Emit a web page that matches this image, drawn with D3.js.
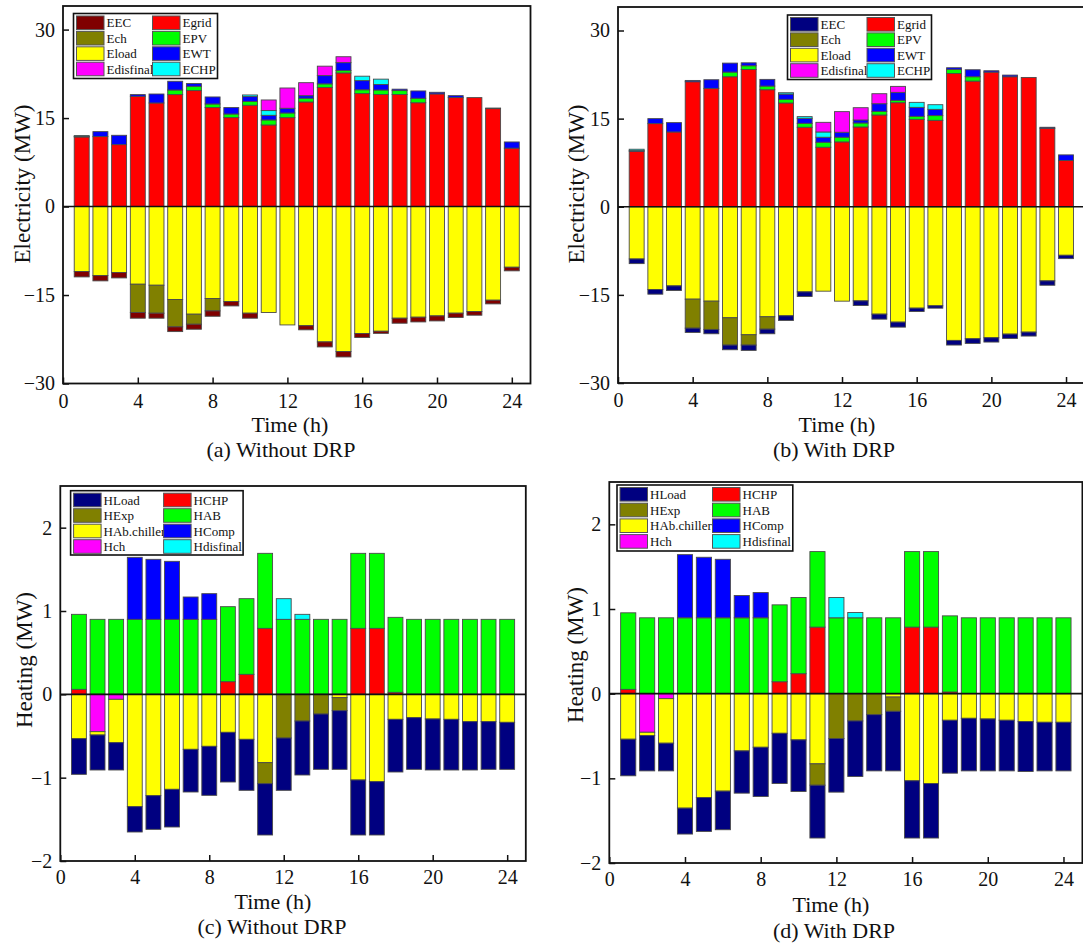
<!DOCTYPE html>
<html>
<head>
<meta charset="utf-8">
<script src="https://cdn.jsdelivr.net/npm/d3@7/dist/d3.min.js"></script>
<style>
  html, body { margin: 0; padding: 0; background: #fff; }
  svg { display: block; }
  text { font-family: "Liberation Serif", "Times New Roman", serif; fill: #111; }
</style>
</head>
<body>
<svg id="fig" width="1083" height="945"></svg>
<script>
// Hours of the day
const hours = d3.range(1, 25);
const xTickValues = [0, 4, 8, 12, 16, 20, 24];
const elecTicks = [-30, -15, 0, 15, 30];
const heatTicks = [-2, -1, 0, 1, 2];

// (a) Electricity balance without DRP (MW); demand-side series are drawn below zero
const egridA = [11.8, 11.86, 10.5, 18.7, 17.56, 18.98, 19.66, 16.78, 15.08, 17.17, 13.83, 15.07, 17.73, 20.2, 22.65, 19.15, 19.0, 19.0, 17.6, 19.1, 18.47, 18.47, 16.6, 9.9];
const epvA = [0, 0, 0, 0, 0, 0.78, 0.73, 0.61, 0.61, 0.63, 0.85, 0.79, 0.63, 0.6, 0.4, 0.65, 0.76, 0.66, 0.76, 0, 0, 0, 0, 0];
const ewtA = [0.1, 0.84, 1.58, 0.28, 1.52, 1.48, 0.46, 1.19, 1.09, 0.84, 0.79, 0.8, 0.44, 1.4, 1.35, 1.55, 0.94, 0.24, 1.24, 0.27, 0.33, 0, 0.1, 1.05];
const echpA = [0.13, 0, 0, 0, 0, 0, 0, 0, 0, 0.28, 0.8, 0, 0, 0, 0, 0.75, 0.9, 0, 0, 0, 0, 0, 0, 0];
const edisA = [0, 0, 0, 0, 0, 0, 0, 0, 0, 0, 1.8, 3.44, 2.2, 1.6, 1.0, 0, 0, 0, 0, 0, 0, 0, 0, 0];
const eloadA = [11.02, 11.7, 11.19, 13.17, 13.34, 15.76, 18.25, 15.6, 16.1, 18.08, 17.97, 20.07, 20.2, 22.95, 24.58, 21.53, 21.14, 18.93, 18.76, 18.54, 18.08, 17.8, 15.88, 10.29];
const echA = [0, 0, 0, 4.8, 4.74, 4.64, 1.7, 2.09, 0, 0, 0, 0, 0, 0, 0, 0, 0, 0, 0, 0, 0, 0, 0, 0];
const eecA = [0.91, 0.9, 0.91, 0.96, 0.85, 0.8, 0.85, 0.91, 0.75, 0.85, 0, 0, 0.7, 0.85, 0.92, 0.67, 0.36, 0.85, 0.8, 0.85, 0.72, 0.62, 0.62, 0.61];

// (b) Electricity balance with DRP (MW)
const egridB = [9.45, 14.15, 12.73, 21.28, 20.15, 22.13, 23.37, 19.92, 17.66, 13.53, 10.13, 11.04, 13.58, 15.62, 17.71, 14.88, 14.71, 22.69, 21.39, 22.92, 22.13, 22.01, 13.36, 7.87];
const epvB = [0, 0, 0, 0, 0, 0.79, 0.63, 0.62, 0.62, 0.67, 0.85, 0.79, 0.68, 0.62, 0.4, 0.51, 0.8, 0.68, 0.74, 0, 0, 0, 0, 0];
const ewtB = [0.1, 0.85, 1.59, 0.22, 1.47, 1.53, 0.5, 1.14, 0.9, 0.85, 0.85, 0.85, 0.51, 1.3, 1.36, 1.53, 1.07, 0.29, 1.19, 0.23, 0.28, 0, 0.17, 0.96];
const echpB = [0.24, 0, 0, 0, 0, 0, 0, 0, 0.23, 0.29, 0.9, 0, 0, 0, 0, 0.85, 0.79, 0, 0, 0, 0, 0, 0, 0];
const edisB = [0, 0, 0, 0, 0, 0, 0, 0, 0, 0, 1.64, 3.51, 2.09, 1.7, 1.02, 0, 0, 0, 0, 0, 0, 0, 0, 0];
const eloadB = [8.89, 14.09, 13.47, 15.73, 16.07, 18.9, 21.79, 18.73, 18.56, 14.49, 14.37, 16.07, 16.02, 18.28, 19.64, 17.26, 16.86, 22.75, 22.47, 22.3, 21.68, 21.34, 12.62, 8.26];
const echB = [0, 0, 0, 4.93, 4.81, 4.64, 1.75, 2.1, 0, 0, 0, 0, 0, 0, 0, 0, 0, 0, 0, 0, 0, 0, 0, 0];
const eecB = [0.79, 0.79, 0.79, 0.73, 0.74, 0.8, 0.91, 0.79, 0.79, 0.79, 0, 0, 0.79, 0.85, 0.85, 0.57, 0.4, 0.79, 0.79, 0.73, 0.73, 0.67, 0.74, 0.57];

// (c) Heat balance without DRP (MW)
const hchpC = [0.06, 0, 0, 0, 0, 0, 0, 0, 0.152, 0.24, 0.792, 0, 0, 0, 0, 0.792, 0.792, 0.024, 0, 0, 0, 0, 0, 0];
const habC = [0.9, 0.9, 0.9, 0.9, 0.9, 0.9, 0.9, 0.9, 0.9, 0.908, 0.9, 0.9, 0.9, 0.9, 0.9, 0.9, 0.9, 0.9, 0.9, 0.9, 0.9, 0.9, 0.9, 0.9];
const hcompC = [0, 0, 0, 0.744, 0.72, 0.696, 0.268, 0.308, 0, 0, 0, 0, 0, 0, 0, 0, 0, 0, 0, 0, 0, 0, 0, 0];
const hdisC = [0, 0, 0, 0, 0, 0, 0, 0, 0, 0, 0, 0.248, 0.06, 0, 0, 0, 0, 0, 0, 0, 0, 0, 0, 0];
const hchC = [0, 0.448, 0.06, 0, 0, 0, 0, 0, 0, 0, 0, 0, 0, 0, 0, 0, 0, 0, 0, 0, 0, 0, 0, 0];
const habsC = [0.532, 0.04, 0.52, 1.348, 1.216, 1.14, 0.66, 0.624, 0.456, 0.54, 0.82, 0, 0, 0, 0.04, 1.028, 1.048, 0.3, 0.28, 0.296, 0.3, 0.328, 0.328, 0.336];
const hexpC = [0, 0, 0, 0, 0, 0, 0, 0, 0, 0, 0.252, 0.524, 0.32, 0.236, 0.156, 0, 0, 0, 0, 0, 0, 0, 0, 0];
const hloadC = [0.428, 0.42, 0.328, 0.304, 0.404, 0.452, 0.512, 0.588, 0.596, 0.612, 0.616, 0.628, 0.648, 0.664, 0.704, 0.66, 0.64, 0.632, 0.62, 0.612, 0.608, 0.58, 0.572, 0.564];

// (d) Heat balance with DRP (MW)
const hchpD = [0.051, 0, 0, 0, 0, 0, 0, 0, 0.141, 0.236, 0.786, 0, 0, 0, 0, 0.786, 0.786, 0.02, 0, 0, 0, 0, 0, 0];
const habD = [0.904, 0.896, 0.896, 0.896, 0.896, 0.896, 0.896, 0.896, 0.908, 0.9, 0.892, 0.896, 0.896, 0.896, 0.896, 0.892, 0.892, 0.899, 0.896, 0.896, 0.896, 0.896, 0.896, 0.896];
const hcompD = [0, 0, 0, 0.746, 0.715, 0.691, 0.263, 0.298, 0, 0, 0, 0, 0, 0, 0, 0, 0, 0, 0, 0, 0, 0, 0, 0];
const hdisD = [0, 0, 0, 0, 0, 0, 0, 0, 0, 0, 0, 0.24, 0.063, 0, 0, 0, 0, 0, 0, 0, 0, 0, 0, 0];
const hchD = [0, 0.456, 0.059, 0, 0, 0, 0, 0, 0, 0, 0, 0, 0, 0, 0, 0, 0, 0, 0, 0, 0, 0, 0, 0];
const habsD = [0.538, 0.039, 0.526, 1.352, 1.226, 1.151, 0.676, 0.633, 0.468, 0.546, 0.829, 0, 0, 0, 0.04, 1.029, 1.061, 0.314, 0.291, 0.299, 0.314, 0.33, 0.338, 0.338];
const hexpD = [0, 0, 0, 0, 0, 0, 0, 0, 0, 0, 0.252, 0.53, 0.322, 0.248, 0.168, 0, 0, 0, 0, 0, 0, 0, 0, 0];
const hloadD = [0.432, 0.417, 0.327, 0.306, 0.401, 0.456, 0.499, 0.581, 0.593, 0.609, 0.624, 0.633, 0.656, 0.664, 0.704, 0.676, 0.644, 0.625, 0.621, 0.613, 0.598, 0.589, 0.574, 0.574];

// Series colours
const C = {
  maroon: "#800000", navy: "#000080", red: "#ff0000", olive: "#808000",
  green: "#00ff00", yellow: "#ffff00", blue: "#0000ff", magenta: "#ff00ff", cyan: "#00ffff"
};

// Series definitions: stacking order (positives upward, negatives downward) and legend order
function elecSeries(eecColor, d) {
  return {
    stack: [
      { key: "Egrid", values: d.grid, sign: 1, color: C.red },
      { key: "EPV", values: d.pv, sign: 1, color: C.green },
      { key: "EWT", values: d.wt, sign: 1, color: C.blue },
      { key: "ECHP", values: d.chp, sign: 1, color: C.cyan },
      { key: "Edisfinal", values: d.dis, sign: 1, color: C.magenta },
      { key: "Eload", values: d.load, sign: -1, color: C.yellow },
      { key: "Ech", values: d.ch, sign: -1, color: C.olive },
      { key: "EEC", values: d.ec, sign: -1, color: eecColor }
    ],
    legend: ["EEC", "Egrid", "Ech", "EPV", "Eload", "EWT", "Edisfinal", "ECHP"]
  };
}
function heatSeries(d) {
  return {
    stack: [
      { key: "HCHP", values: d.chp, sign: 1, color: C.red },
      { key: "HAB", values: d.ab, sign: 1, color: C.green },
      { key: "HComp", values: d.comp, sign: 1, color: C.blue },
      { key: "Hdisfinal", values: d.dis, sign: 1, color: C.cyan },
      { key: "Hch", values: d.ch, sign: -1, color: C.magenta },
      { key: "HAb.chiller", values: d.abs, sign: -1, color: C.yellow },
      { key: "HExp", values: d.exp, sign: -1, color: C.olive },
      { key: "HLoad", values: d.load, sign: -1, color: C.navy }
    ],
    legend: ["HLoad", "HCHP", "HExp", "HAB", "HAb.chiller", "HComp", "Hch", "Hdisfinal"]
  };
}

const panels = [
  {
    box: { left: 63, right: 530.5, top: 6, bottom: 383.5 }, yDomain: [-30, 34], yTicks: elecTicks, tickPad: 10,
    yTitle: "Electricity (MW)", yTitleX: 22, yTitleY: 184, xTitleX: 290, xTitleY: 432, caption: "(a) Without DRP", capX: 281, capY: 457,
    legend: { x: 73.5, y: 13.5, w: 144, h: 65, col2: 76, rowH: 15.4, font: 13 },
    series: elecSeries(C.maroon, { grid: egridA, pv: epvA, wt: ewtA, chp: echpA, dis: edisA, load: eloadA, ch: echA, ec: eecA })
  },
  {
    box: { left: 618, right: 1084.7, top: 7, bottom: 383 }, yDomain: [-30, 34], yTicks: elecTicks, tickPad: 10,
    yTitle: "Electricity (MW)", yTitleX: 576, yTitleY: 184, xTitleX: 837, xTitleY: 432, caption: "(b) With DRP", capX: 834, capY: 457,
    legend: { x: 787.5, y: 15, w: 144, h: 64.5, col2: 76.5, rowH: 15.4, font: 13 },
    series: elecSeries(C.navy, { grid: egridB, pv: epvB, wt: ewtB, chp: echpB, dis: edisB, load: eloadB, ch: echB, ec: eecB })
  },
  {
    box: { left: 60.3, right: 525.8, top: 486, bottom: 861 }, yDomain: [-2, 2.5], yTicks: heatTicks, tickPad: 9,
    yTitle: "Heating (MW)", yTitleX: 24, yTitleY: 660, xTitleX: 273, xTitleY: 909, caption: "(c) Without DRP", capX: 272, capY: 934,
    legend: { x: 70.6, y: 490.7, w: 172.5, h: 64.3, col2: 90, rowH: 15.5, font: 13 },
    series: heatSeries({ chp: hchpC, ab: habC, comp: hcompC, dis: hdisC, ch: hchC, abs: habsC, exp: hexpC, load: hloadC })
  },
  {
    box: { left: 609.3, right: 1082.4, top: 482, bottom: 863 }, yDomain: [-2, 2.5], yTicks: heatTicks, tickPad: 9,
    yTitle: "Heating (MW)", yTitleX: 575, yTitleY: 655, xTitleX: 831, xTitleY: 912, caption: "(d) With DRP", capX: 834, capY: 938,
    legend: { x: 617, y: 485, w: 175.8, h: 66, col2: 92.5, rowH: 15.7, font: 13 },
    series: heatSeries({ chp: hchpD, ab: habD, comp: hcompD, dis: hdisD, ch: hchD, abs: habsD, exp: hexpD, load: hloadD })
  }
];

const svg = d3.select("#fig");
svg.append("rect").attr("width", 1083).attr("height", 945).attr("fill", "#fff");

panels.forEach(p => {
  const b = p.box;
  const x = d3.scaleLinear().domain([0, 25]).range([b.left, b.right]);
  const y = d3.scaleLinear().domain(p.yDomain).range([b.bottom, b.top]);
  const barW = x(0.8) - x(0);

  const g = svg.append("g");

  // Table of signed values, one row per hour
  const keys = p.series.stack.map(s => s.key);
  const rows = hours.map((h, i) => {
    const r = { hour: h };
    p.series.stack.forEach(s => { r[s.key] = s.sign * s.values[i]; });
    return r;
  });
  const stacked = d3.stack().keys(keys).offset(d3.stackOffsetDiverging)(rows);
  const colorOf = new Map(p.series.stack.map(s => [s.key, s.color]));

  const clipId = "clip" + Math.round(b.left);
  svg.append("clipPath").attr("id", clipId)
    .append("rect").attr("x", b.left).attr("y", b.top).attr("width", b.right - b.left).attr("height", b.bottom - b.top);

  const barsG = g.append("g").attr("clip-path", `url(#${clipId})`);
  stacked.forEach(layer => {
    barsG.append("g").selectAll("rect")
      .data(layer.filter(d => Math.abs(d[1] - d[0]) > 1e-9))
      .join("rect")
      .attr("x", d => x(d.data.hour) - barW / 2)
      .attr("width", barW)
      .attr("y", d => y(Math.max(d[0], d[1])))
      .attr("height", d => Math.abs(y(d[0]) - y(d[1])))
      .attr("fill", colorOf.get(layer.key))
      .attr("stroke", "#4a4a4a")
      .attr("stroke-width", 0.9);
  });

  // Zero line
  g.append("line")
    .attr("x1", b.left).attr("x2", b.right)
    .attr("y1", y(0)).attr("y2", y(0))
    .attr("stroke", "#111").attr("stroke-width", 1.6);

  // Axes with inward ticks
  const xAxis = d3.axisBottom(x).tickValues(xTickValues).tickSize(-6).tickPadding(p.tickPad).tickFormat(d3.format("d"));
  const yAxis = d3.axisLeft(y).tickValues(p.yTicks).tickSize(-6).tickPadding(8).tickFormat(d3.format("d"));

  const gx = g.append("g").attr("transform", `translate(0,${b.bottom})`).call(xAxis);
  const gy = g.append("g").attr("transform", `translate(${b.left},0)`).call(yAxis);
  [gx, gy].forEach(ax => {
    ax.select(".domain").remove();
    ax.selectAll(".tick line").attr("stroke", "#111").attr("stroke-width", 1.5);
    ax.selectAll(".tick text")
      .attr("fill", "#111")
      .style("font-family", '"Liberation Serif", "Times New Roman", serif')
      .style("font-size", "20px");
  });

  // Frame
  g.append("rect")
    .attr("x", b.left).attr("y", b.top)
    .attr("width", b.right - b.left).attr("height", b.bottom - b.top)
    .attr("fill", "none").attr("stroke", "#111").attr("stroke-width", 1.8);

  // Titles
  g.append("text")
    .attr("transform", `translate(${p.yTitleX},${p.yTitleY}) rotate(-90)`)
    .attr("text-anchor", "middle").attr("dy", "0.35em")
    .style("font-size", "23px").text(p.yTitle);
  g.append("text")
    .attr("x", p.xTitleX).attr("y", p.xTitleY)
    .attr("text-anchor", "middle")
    .style("font-size", "22px").text("Time (h)");
  g.append("text")
    .attr("x", p.capX).attr("y", p.capY)
    .attr("text-anchor", "middle")
    .style("font-size", "22px").text(p.caption);

  // Legend: two columns, four rows
  const L = p.legend;
  const lg = g.append("g");
  lg.append("rect")
    .attr("x", L.x).attr("y", L.y).attr("width", L.w).attr("height", L.h)
    .attr("fill", "#fff").attr("stroke", "#111").attr("stroke-width", 1.6);
  p.series.legend.forEach((key, i) => {
    const col = i % 2, row = Math.floor(i / 2);
    const sx = L.x + 3 + col * L.col2;
    const cy = L.y + 9.3 + row * L.rowH;
    lg.append("rect")
      .attr("x", sx).attr("y", cy - 6.8)
      .attr("width", 27.5).attr("height", 13.6)
      .attr("fill", colorOf.get(key))
      .attr("stroke", "#555").attr("stroke-width", 1);
    lg.append("text")
      .attr("x", sx + 30).attr("y", cy)
      .attr("dy", "0.35em")
      .style("font-size", L.font + "px")
      .text(key);
  });
});
</script>
</body>
</html>
